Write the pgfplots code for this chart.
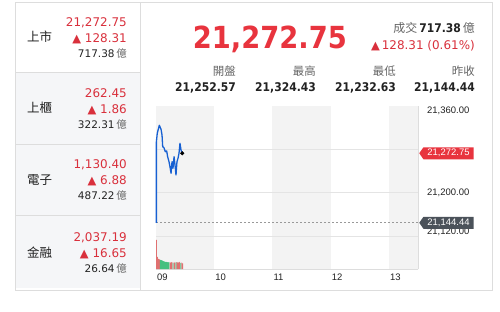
\documentclass[border=0pt]{standalone}
\usepackage{pgfplots}
\pgfplotsset{compat=1.18}
\usetikzlibrary{shapes.symbols}
\usepackage{fontspec}
\setmainfont{DejaVu Sans}
\newfontfamily\cjk{Noto Sans CJK TC}
\newfontfamily\lib{Liberation Sans}
\newfontfamily\hb{DejaVu Sans}[FakeStretch=0.9]
\definecolor{upred}{HTML}{D9303C}
\definecolor{bigred}{HTML}{E8343E}
\definecolor{txt}{HTML}{222222}
\definecolor{lbl}{HTML}{666666}
\definecolor{framec}{HTML}{DDDDDD}
\definecolor{rowbg}{HTML}{F5F6F8}
\definecolor{band}{HTML}{F3F3F3}
\definecolor{gridc}{HTML}{E4E4E4}
\definecolor{pline}{HTML}{1760D2}
\definecolor{barred}{HTML}{E07070}
\definecolor{bargreen}{HTML}{45C07F}
\definecolor{labdark}{HTML}{4B525A}
\newcommand{\fs}[1]{\fontsize{#1}{#1}\selectfont}
\newcommand{\up}{{\fs{11.5}▲}}
\begin{document}
\begin{tikzpicture}
\begin{scope}[x=1bp,y=-1bp]
\fill[white] (0,0) rectangle (500,311);
\fill[rowbg] (15,72) rectangle (140,288);
\draw[framec] (15,2) rectangle (492,290);
\draw[framec] (140,2) -- (140,290);
\draw[framec] (15,72) -- (140,72);
\draw[framec] (15,144) -- (140,144);
\draw[framec] (15,215) -- (140,215);
% left panel
\foreach \lab/\yc/\va/\vb/\vc/\yy in {上市/37/{21,272.75}/{128.31}/{717.38}/22, 上櫃/108/{262.45}/{1.86}/{322.31}/93, 電子/180/{1,130.40}/{6.88}/{487.22}/164, 金融/253/{2,037.19}/{16.65}/{26.64}/237}{
  \node[anchor=west, inner sep=0, text=txt, font=\cjk\fs{12.5}] at (27,\yc) {\lab};
  \node[anchor=base east, inner sep=0, text=upred, font=\fs{12}] at (127,\yy+4.3) {\va};
  \node[anchor=base east, inner sep=0, text=upred, font=\fs{12}] at (127,\yy+20.3) {\up\ \vb};
  \node[anchor=base east, inner sep=0, text=txt, font=\fs{10.5}] at (127,\yy+35) {\vc\,{\cjk\color{lbl}億}};
}
% header
\node[anchor=base east, inner sep=0, text=bigred, font=\hb\bfseries\fs{30.5}] at (347,48.5) {21,272.75};
\node[anchor=base east, inner sep=0, text=txt, font=\fs{12}] at (475,32.3) {{\cjk\color{lbl}成交}\,{\hb\bfseries 717.38}\,{\cjk\color{lbl}億}};
\node[anchor=base east, inner sep=0, text=upred, font=\fs{12}] at (475,49.3) {\up\,128.31 (0.61\%)};
\foreach \lab/\val/\xx in {開盤/{21,252.57}/236, 最高/{21,324.43}/316, 最低/{21,232.63}/396, 昨收/{21,144.44}/475}{
  \node[anchor=east, inner sep=0, text=lbl, font=\cjk\fs{11.5}] at (\xx,71) {\lab};
  \node[anchor=base east, inner sep=0, text=txt, font=\hb\bfseries\fs{12}] at (\xx,91.4) {\val};
}
\end{scope}
% price axis
\begin{axis}[at={(156bp,-269bp)}, anchor=south west, scale only axis,
  width=262bp, height=163bp, xmin=0, xmax=270, ymin=21059.1, ymax=21360,
  clip=false, axis x line*=bottom, axis y line*=right,
  axis line style={draw=framec},
  tick style={draw=none}, scaled y ticks=false, scaled x ticks=false,
  /pgf/number format/assume math mode=true,
  xtick={0,60,120,180,240}, xticklabels={09,10,11,12,13},
  xticklabel style={anchor=north west, inner sep=0pt, font=\lib\fs{9.5}, text=txt, xshift=1bp, yshift=-4.5bp},
  ytick=\empty,
]
\fill[band] (axis cs:0,21059.1) rectangle (axis cs:60,21360);
\fill[band] (axis cs:120,21059.1) rectangle (axis cs:180,21360);
\fill[band] (axis cs:240,21059.1) rectangle (axis cs:270,21360);
\draw[gridc] (axis cs:0,21280) -- (axis cs:270,21280);
\draw[gridc] (axis cs:0,21200) -- (axis cs:270,21200);
\draw[gridc] (axis cs:0,21120) -- (axis cs:270,21120);
\draw[framec] (axis cs:270,21059.1) -- (axis cs:270,21360);
\node[anchor=west, inner sep=0pt, font=\lib\fs{9.5}, text=txt] at ([xshift=9bp,yshift=-5bp]axis cs:270,21360) {21,360.00};
\node[anchor=west, inner sep=0pt, font=\lib\fs{9.5}, text=txt] at ([xshift=9bp]axis cs:270,21200) {21,200.00};
\node[anchor=west, inner sep=0pt, font=\lib\fs{9.5}, text=txt] at ([xshift=9bp,yshift=4bp]axis cs:270,21120) {21,120.00};
\addplot[color=gray!80, line width=0.8bp, dash pattern=on 2bp off 2bp] coordinates {(0,21144.44) (270,21144.44)};
\addplot[color=pline, line width=1.3bp, line join=round] coordinates {
(0.4,21144.44) (0.4,21294) (1.3,21309.6) (3.4,21324.43) (5.2,21317) (6.2,21306.5)
(6.9,21285) (8.2,21283) (9.6,21275.6) (11,21277) (12,21266.4) (13.4,21257.2)
(14.4,21248) (15.5,21235.8) (16.5,21257.2) (17.5,21245) (18.6,21266.4) (19.6,21251)
(20.6,21232.63) (21.6,21257.2) (22.7,21263.6) (23.7,21272.7) (24.7,21291.1)
(25.8,21278.8) (27,21272.75)};
\addplot[only marks, mark=*, mark size=1.8bp, black] coordinates {(27,21272.75)};
\node[signal, signal to=west, signal pointer angle=110, fill=bigred, text=white, font=\lib\fs{9.5}, inner xsep=4bp, inner ysep=0pt, minimum height=12bp, anchor=west] at ([xshift=1bp]axis cs:270,21272.75) {21,272.75};
\node[signal, signal to=west, signal pointer angle=110, fill=labdark, text=white, font=\lib\fs{9.5}, inner xsep=4bp, inner ysep=0pt, minimum height=12bp, anchor=west] at ([xshift=1bp]axis cs:270,21144.44) {21,144.44};
\end{axis}
% volume axis
\begin{axis}[at={(156bp,-269bp)}, anchor=south west, scale only axis,
  width=262bp, height=163bp, xmin=0, xmax=270, ymin=0, ymax=494,
  axis lines=none, ticks=none]
\addplot[ybar, bar width=0.8, fill=barred, draw=none] coordinates {
(0.5,88) (1.5,37) (2.5,31) (3.5,29) (14.5,19) (15.5,20) (16.5,21) (18.5,20) (19.5,19)
(21.5,21) (22.5,19) (23.5,20) (24.5,22) (26.5,19) (27.5,17)};
\addplot[ybar, bar width=0.8, fill=bargreen, draw=none] coordinates {
(4.5,28) (5.5,27) (6.5,26) (7.5,24) (8.5,23) (9.5,22) (10.5,22) (11.5,21) (12.5,20)
(13.5,21) (17.5,18) (20.5,20) (25.5,18)};
\end{axis}
\end{tikzpicture}
\end{document}
